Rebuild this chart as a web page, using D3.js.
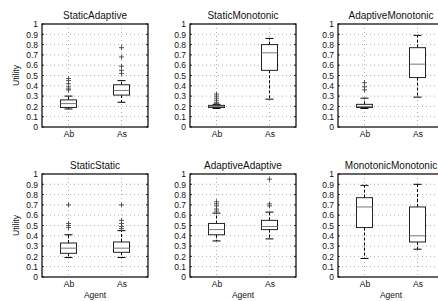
<!DOCTYPE html>
<html><head><meta charset="utf-8">
<script src="https://cdn.jsdelivr.net/npm/d3@7"></script>
<style>body{margin:0;background:#fff;overflow:hidden}svg{display:block}text{font-family:"Liberation Sans",Arial,sans-serif;fill:#111}</style>
</head><body><svg id="c" width="438" height="301"></svg>
<script>
const titles = ["StaticAdaptive","StaticMonotonic","AdaptiveMonotonic","StaticStatic","AdaptiveAdaptive","MonotonicMonotonic"];
const agents = ["Ab","As"];
const yTicks = [0,0.1,0.2,0.3,0.4,0.5,0.6,0.7,0.8,0.9,1];
// per panel: [Ab, As]
const whiskerLow  = [[0.175,0.24],[0.18,0.27],[0.18,0.29],[0.19,0.19],[0.35,0.37],[0.18,0.27]];
const q1          = [[0.19,0.31],[0.19,0.55],[0.19,0.48],[0.23,0.24],[0.41,0.46],[0.48,0.34]];
const median      = [[0.227,0.355],[0.20,0.72],[0.20,0.61],[0.28,0.28],[0.46,0.49],[0.68,0.40]];
const q3          = [[0.263,0.41],[0.21,0.80],[0.22,0.77],[0.33,0.34],[0.52,0.55],[0.77,0.68]];
const whiskerHigh = [[0.30,0.45],[0.22,0.86],[0.28,0.89],[0.41,0.45],[0.62,0.63],[0.89,0.90]];
const outliers = [
  [[0.36,0.37,0.39,0.42,0.45,0.47],[0.52,0.55,0.59,0.68,0.77]],
  [[0.23,0.24,0.26,0.28,0.30,0.32],[]],
  [[0.36,0.39,0.43],[]],
  [[0.48,0.50,0.52,0.70],[0.47,0.49,0.52,0.55,0.70]],
  [[0.64,0.66,0.69,0.71,0.73],[0.69,0.71,0.95]],
  [[],[]]
];

const svg = d3.select("#c");
const W = 106, H = 103;
const lefts = [42,190,338], tops = [24,174];

titles.forEach((t,i)=>{
  const col = i%3, row = Math.floor(i/3);
  const g = svg.append("g").attr("transform",`translate(${lefts[col]},${tops[row]})`);
  const x = d3.scalePoint().domain(agents).range([0,W]).padding(0.5);
  const y = d3.scaleLinear().domain([0,1]).range([H,0]);
  // grid
  g.selectAll(".gy").data(yTicks.slice(1,-1)).join("line")
    .attr("x1",0).attr("x2",W).attr("y1",d=>y(d)).attr("y2",d=>y(d))
    .attr("stroke","#999").attr("stroke-width",0.8).attr("stroke-dasharray","1,3");
  g.selectAll(".gx").data(agents).join("line")
    .attr("x1",d=>x(d)).attr("x2",d=>x(d)).attr("y1",0).attr("y2",H)
    .attr("stroke","#999").attr("stroke-width",0.8).attr("stroke-dasharray","1,3");
  // axes
  const ya = d3.axisLeft(y).tickValues(yTicks).tickSize(0).tickPadding(4).tickFormat(d3.format("~g"));
  const yg = g.append("g").call(ya);
  yg.select(".domain").remove();
  yg.selectAll("text").attr("font-size",8.5);
  const xa = d3.axisBottom(x).tickSize(0).tickPadding(4);
  const xg = g.append("g").attr("transform",`translate(0,${H})`).call(xa);
  xg.select(".domain").remove();
  xg.selectAll("text").attr("font-size",8.5);
  // inside ticks
  g.selectAll(".tk").data(yTicks).join("line")
    .attr("x1",0).attr("x2",2).attr("y1",d=>y(d)).attr("y2",d=>y(d)).attr("stroke","#000").attr("stroke-width",0.8);
  g.selectAll(".tk2").data(yTicks).join("line")
    .attr("x1",W).attr("x2",W-2).attr("y1",d=>y(d)).attr("y2",d=>y(d)).attr("stroke","#000").attr("stroke-width",0.8);
  // box data
  const bw = 16, cw = 8;
  agents.forEach((a,j)=>{
    const cx = x(a);
    // whiskers
    g.append("line").attr("x1",cx).attr("x2",cx).attr("y1",y(q3[i][j])).attr("y2",y(whiskerHigh[i][j]))
      .attr("stroke","#000").attr("stroke-width",1).attr("stroke-dasharray","3,2");
    g.append("line").attr("x1",cx).attr("x2",cx).attr("y1",y(q1[i][j])).attr("y2",y(whiskerLow[i][j]))
      .attr("stroke","#000").attr("stroke-width",1).attr("stroke-dasharray","3,2");
    [whiskerHigh[i][j],whiskerLow[i][j]].forEach(v=>{
      g.append("line").attr("x1",cx-cw/2).attr("x2",cx+cw/2).attr("y1",y(v)).attr("y2",y(v))
        .attr("stroke","#000").attr("stroke-width",1);
    });
    g.append("rect").attr("x",cx-bw/2).attr("width",bw)
      .attr("y",y(q3[i][j])).attr("height",y(q1[i][j])-y(q3[i][j]))
      .attr("fill","#fff").attr("stroke","#222").attr("stroke-width",1);
    g.append("line").attr("x1",cx-bw/2).attr("x2",cx+bw/2).attr("y1",y(median[i][j])).attr("y2",y(median[i][j]))
      .attr("stroke","#777").attr("stroke-width",1);
    outliers[i][j].forEach(v=>{
      g.append("path").attr("d",`M${cx-2.5},${y(v)}H${cx+2.5}M${cx},${y(v)-2.5}V${y(v)+2.5}`)
        .attr("stroke","#444").attr("stroke-width",0.9).attr("fill","none");
    });
  });
  // frame
  g.append("rect").attr("x",0).attr("y",0).attr("width",W).attr("height",H)
    .attr("fill","none").attr("stroke","#000").attr("stroke-width",1.2);
  // title
  g.append("text").attr("x",W/2).attr("y",-5).attr("text-anchor","middle").attr("font-size",10).text(t);
  if(col===0){
    g.append("text").attr("transform",`translate(-23,${H/2}) rotate(-90)`).attr("text-anchor","middle")
      .attr("font-size",8.5).text("Utility");
  }
  if(row===1){
    g.append("text").attr("x",W/2).attr("y",H+21).attr("text-anchor","middle").attr("font-size",8.5).text("Agent");
  }
});
</script></body></html>
